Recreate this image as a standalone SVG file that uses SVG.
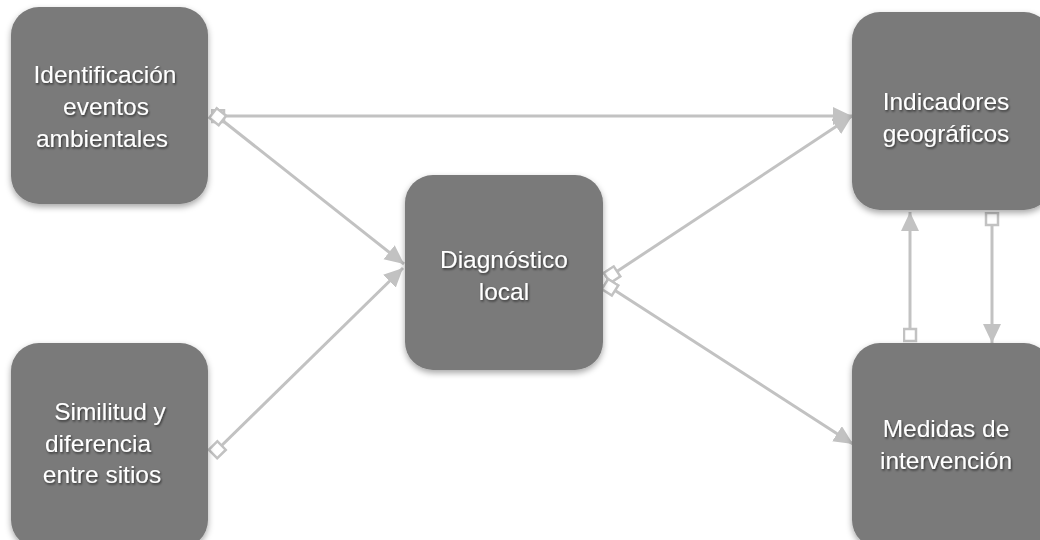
<svg xmlns="http://www.w3.org/2000/svg" width="1040" height="540" viewBox="0 0 1040 540">
<style>
.node{fill:#7a7a7a;filter:url(#shadow)}
.lbl{font-family:"Liberation Sans",Arial,sans-serif;font-size:24.5px;fill:#ffffff;text-anchor:middle;filter:url(#tshadow)}
.edge{stroke:#c2c2c2;stroke-width:3;fill:none}
</style>
<defs>
<filter id="shadow" x="-10%" y="-10%" width="125%" height="125%">
<feDropShadow dx="0" dy="3" stdDeviation="3" flood-color="#000" flood-opacity="0.35"/>
</filter>
<filter id="tshadow" x="-10%" y="-20%" width="120%" height="150%">
<feDropShadow dx="1" dy="1.5" stdDeviation="1.2" flood-color="#000" flood-opacity="0.6"/>
</filter>
<marker id="arrow" markerUnits="userSpaceOnUse" markerWidth="22" markerHeight="20" refX="19" refY="9" orient="auto">
<path d="M0,0 L19,9 L0,18 z" fill="#c2c2c2"/>
</marker>
<marker id="sq" markerUnits="userSpaceOnUse" markerWidth="17" markerHeight="17" refX="1.5" refY="7.5" orient="auto">
<path d="M1.5,1.5 H13.5 V13.5 H1.5 z" fill="#ffffff" stroke="#c2c2c2" stroke-width="2.5"/>
</marker>
</defs>
<rect width="1040" height="540" fill="#ffffff"/>
<g id="connectors">
<path class="edge" d="M212,116 L852,116" marker-start="url(#sq)" marker-end="url(#arrow)"/>
<path class="edge" d="M213,113 L404,264" marker-start="url(#sq)" marker-end="url(#arrow)"/>
<path class="edge" d="M213,454 L403,268" marker-start="url(#sq)" marker-end="url(#arrow)"/>
<path class="edge" d="M607,278 L852,116" marker-start="url(#sq)" marker-end="url(#arrow)"/>
<path class="edge" d="M605,284 L853,444" marker-start="url(#sq)" marker-end="url(#arrow)"/>
<path class="edge" d="M910,341 L910,212" marker-start="url(#sq)" marker-end="url(#arrow)"/>
<path class="edge" d="M992,213 L992,343" marker-start="url(#sq)" marker-end="url(#arrow)"/>
</g>
<g id="n-identificacion">
<rect class="node" x="11" y="7" width="197" height="197" rx="28"/>
<text class="lbl"><tspan x="105" y="83">Identificación</tspan><tspan x="106" y="115">eventos</tspan><tspan x="102" y="147">ambientales</tspan></text>
</g>
<g id="n-similitud">
<rect class="node" x="11" y="343" width="197" height="205" rx="28"/>
<text class="lbl"><tspan x="110" y="420">Similitud y</tspan><tspan x="98" y="452">diferencia</tspan><tspan x="102" y="483">entre sitios</tspan></text>
</g>
<g id="n-diagnostico">
<rect class="node" x="405" y="175" width="198" height="195" rx="28"/>
<text class="lbl"><tspan x="504" y="268">Diagnóstico</tspan><tspan x="504" y="300">local</tspan></text>
</g>
<g id="n-indicadores">
<rect class="node" x="852" y="12" width="200" height="198" rx="28"/>
<text class="lbl"><tspan x="946" y="110">Indicadores</tspan><tspan x="946" y="142">geográficos</tspan></text>
</g>
<g id="n-medidas">
<rect class="node" x="852" y="343" width="200" height="205" rx="28"/>
<text class="lbl"><tspan x="946" y="437">Medidas de</tspan><tspan x="946" y="469">intervención</tspan></text>
</g>
</svg>
